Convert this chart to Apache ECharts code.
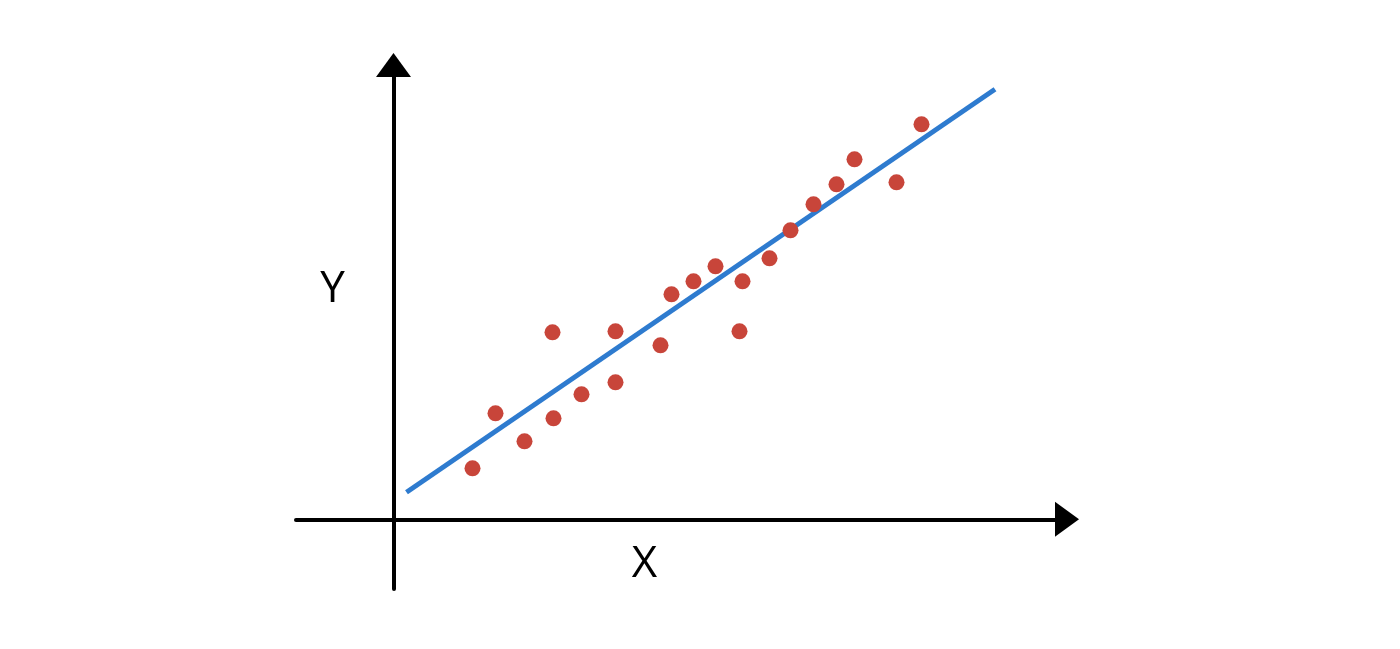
<!DOCTYPE html>
<html>
<head>
<meta charset="utf-8">
<script src="https://cdn.jsdelivr.net/npm/echarts@6/dist/echarts.min.js"></script>
<style>html,body{margin:0;padding:0;background:#fff;}#c{width:1400px;height:649px;}</style>
</head>
<body>
<div id="c"></div>
<script>
// Scatter points (x, y) in arbitrary units, origin at axes crossing
const pointsX = [7.9, 10.2, 13.1, 15.9, 16.0, 18.8, 22.2, 22.2, 26.7, 27.8, 30.0, 32.2, 34.6, 34.9, 37.6, 39.7, 42.0, 44.3, 46.1, 50.3, 52.8];
const pointsY = [5.1, 10.6, 7.8, 18.7, 10.1, 12.5, 18.8, 13.7, 17.4, 22.5, 23.8, 25.3, 18.8, 23.8, 26.1, 28.9, 31.5, 33.5, 36.0, 33.7, 39.5];
// Fitted line endpoints
const fitX = [1.3, 60.15];
const fitY = [2.7, 43.0];
const axisNames = ['X', 'Y'];

const chart = echarts.init(document.getElementById('c'), null, {renderer: 'canvas'});
const scatterData = pointsX.map((x, i) => [x, pointsY[i]]);
const lineData = fitX.map((x, i) => [x, fitY[i]]);
const hiddenAxis = {
  axisTick: {show: false},
  axisLabel: {show: false},
  splitLine: {show: false}
};
chart.setOption({
  backgroundColor: '#ffffff',
  animation: false,
  grid: {left: 296, right: 333, top: 65, bottom: 60, containLabel: false},
  xAxis: Object.assign({
    type: 'value', min: -9.75, max: 67.35,
    axisLine: {show: true, onZero: true, lineStyle: {color: '#000', width: 4},
      symbol: ['none', 'triangle'], symbolSize: [35, 24]}
  }, hiddenAxis),
  yAxis: Object.assign({
    type: 'value', min: -6.97, max: 45.43,
    axisLine: {show: true, onZero: true, lineStyle: {color: '#000', width: 4},
      symbol: ['none', 'triangle'], symbolSize: [35, 24]}
  }, hiddenAxis),
  series: [
    {
      type: 'line', data: lineData, showSymbol: false,
      lineStyle: {color: '#2e7bcf', width: 5}, z: 3
    },
    {
      type: 'scatter', data: scatterData, symbol: 'circle', symbolSize: 16,
      itemStyle: {color: '#c8453a', opacity: 1}, z: 4
    }
  ],
  graphic: [
    {type: 'text', x: 644.5, y: 564, style: {text: axisNames[0], font: '44px "Open Sans", sans-serif', fill: '#000', textAlign: 'center', textVerticalAlign: 'middle'}},
    {type: 'text', x: 332.5, y: 289.5, style: {text: axisNames[1], font: '44px "Open Sans", sans-serif', fill: '#000', textAlign: 'center', textVerticalAlign: 'middle'}}
  ]
});
</script>
</body>
</html>
